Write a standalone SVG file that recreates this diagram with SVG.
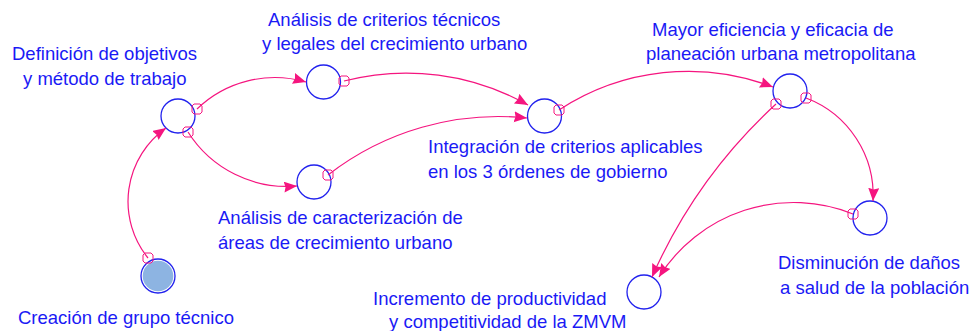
<svg xmlns="http://www.w3.org/2000/svg" width="970" height="331" viewBox="0 0 970 331">
<defs>
<style>
.lbl{font-family:"Liberation Sans",Arial,sans-serif;font-size:18.5px;fill:#1a1af5}
.nd{fill:#fff;stroke:#2222ee;stroke-width:1.3}
.cn{fill:none;stroke:#f5157f;stroke-width:1.2;marker-start:url(#st);marker-end:url(#ar)}
</style>
<marker id="ar" markerUnits="userSpaceOnUse" markerWidth="16" markerHeight="14" refX="13" refY="5.5" orient="auto">
<path d="M0,0 L13,5.5 L0,11 L1.5,5.5 z" fill="#f5157f"/>
</marker>
<marker id="st" markerUnits="userSpaceOnUse" markerWidth="14" markerHeight="14" refX="7" refY="7" orient="0">
<path d="M4,2 H10 L12,4 V10 L10,12 H4 L2,10 V4 z" fill="none" stroke="#f5157f" stroke-width="1"/>
</marker>
</defs>
<rect width="970" height="331" fill="#fff"/>
<g id="n-creacion">
<circle class="nd" cx="158" cy="276" r="17"/>
<circle cx="158" cy="276" r="15.3" fill="#8db4e2"/>
<text class="lbl" x="18" y="324">Creación de grupo técnico</text>
</g>
<g id="n-definicion">
<circle class="nd" cx="178" cy="116" r="17"/>
<text class="lbl" x="12" y="60">Definición de objetivos</text>
<text class="lbl" x="23" y="85">y método de trabajo</text>
</g>
<g id="n-criterios">
<circle class="nd" cx="323.5" cy="82" r="17"/>
<text class="lbl" x="268" y="26">Análisis de criterios técnicos</text>
<text class="lbl" x="262" y="50">y legales del crecimiento urbano</text>
</g>
<g id="n-caracterizacion">
<circle class="nd" cx="314" cy="182" r="17"/>
<text class="lbl" x="218" y="224">Análisis de caracterización de</text>
<text class="lbl" x="218" y="249">áreas de crecimiento urbano</text>
</g>
<g id="n-integracion">
<circle class="nd" cx="544.5" cy="116" r="17"/>
<text class="lbl" x="428" y="153">Integración de criterios aplicables</text>
<text class="lbl" x="428" y="178">en los 3 órdenes de gobierno</text>
</g>
<g id="n-mayor">
<circle class="nd" cx="790" cy="91" r="17"/>
<text class="lbl" x="652" y="36">Mayor eficiencia y eficacia de</text>
<text class="lbl" x="646" y="60">planeación urbana metropolitana</text>
</g>
<g id="n-disminucion">
<circle class="nd" cx="870" cy="218" r="17"/>
<text class="lbl" x="778" y="269">Disminución de daños</text>
<text class="lbl" x="780" y="294">a salud de la población</text>
</g>
<g id="n-incremento">
<circle class="nd" cx="644" cy="292" r="17"/>
<text class="lbl" x="373" y="305">Incremento de productividad</text>
<text class="lbl" x="389" y="328">y competitividad de la ZMVM</text>
</g>
<g id="connectors">
<path class="cn" d="M148,258 A90,90 0 0,1 166,128"/>
<path class="cn" d="M197,109 A112,112 0 0,1 306,82"/>
<path class="cn" d="M188,132 A117,117 0 0,0 297,186"/>
<path class="cn" d="M344,81 A248,248 0 0,1 528,105"/>
<path class="cn" d="M328,175 A278,278 0 0,1 527,118"/>
<path class="cn" d="M559,110 A236,236 0 0,1 773,87"/>
<path class="cn" d="M776,104 A520,520 0 0,0 652,277"/>
<path class="cn" d="M806,98 A104,104 0 0,1 873,201"/>
<path class="cn" d="M853,214 A159,159 0 0,0 659,277"/>
</g>
</svg>
